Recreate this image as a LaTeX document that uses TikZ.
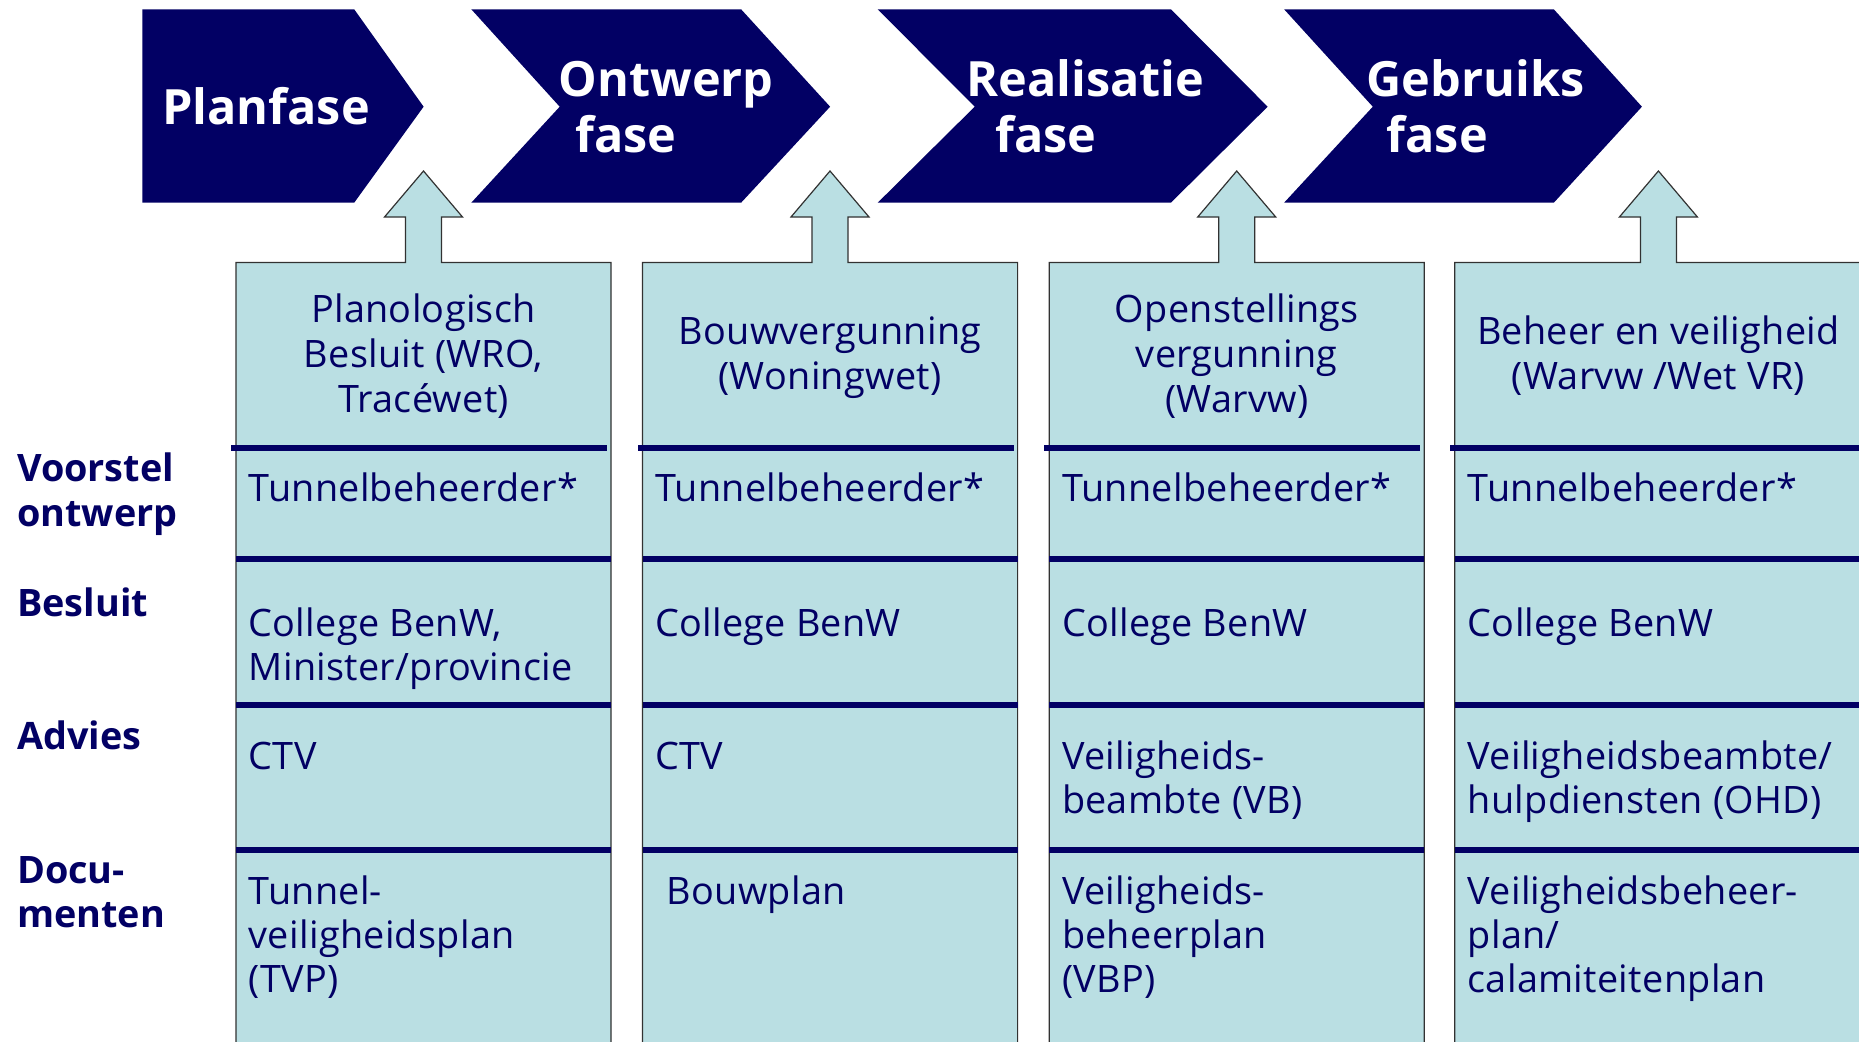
\documentclass[tikz,border=0pt]{standalone}
\usepackage{fontspec}
\setmainfont{Open Sans}[LetterSpace=0.8, BoldFeatures={LetterSpace=0}]
\definecolor{navy}{RGB}{2,0,100}
\definecolor{boxfill}{RGB}{186,223,227}
\definecolor{edge}{RGB}{50,50,50}
\newcommand{\leftlines}[2]{\vtop{\baselineskip=#1\lineskiplimit=-200pt\lineskip=0pt\halign{##\hfil\cr#2\crcr}}}
\newcommand{\centerlines}[2]{\vtop{\baselineskip=#1\lineskiplimit=-200pt\lineskip=0pt\halign{\hfil##\hfil\cr#2\crcr}}}
\tikzset{
  phase/.style={fill=navy, draw=none},
  phasetext/.style={text=white, font=\fontsize{48.6}{57}\selectfont\bfseries, inner sep=0pt, anchor=base west},
  colbox/.style={fill=boxfill, draw=edge, line width=1.2pt},
  sepbar/.style={fill=navy},
  celltext/.style={text=navy, font=\fontsize{37.8}{44}\selectfont, inner sep=0pt, anchor=base west},
  headtext/.style={text=navy, font=\fontsize{37.8}{45}\selectfont, inner sep=0pt, anchor=base},
  rowlabel/.style={text=navy, font=\fontsize{37.8}{45}\selectfont\bfseries, inner sep=0pt, anchor=base west},
}
\begin{document}
\begin{tikzpicture}[x=1pt,y=-1pt]
\path[use as bounding box] (0,0) rectangle (1859,1041);
\clip (0,0) rectangle (1859,1041);
\fill[white] (0,0) rectangle (1859,1041);

% phase chevrons
\path[phase] (142.4,9.3) -- (354.2,9.3) -- (423.6,106.7) -- (354.2,202.7) -- (142.4,202.7) -- cycle;
\path[phase] (471.3,9.3) -- (741.1,9.3) -- (830.1,106.7) -- (741.1,202.7) -- (471.3,202.7) -- (559.7,106.7) -- cycle;
\path[phase] (877.7,9.3) -- (1170.9,9.3) -- (1267.6,106.7) -- (1170.9,202.7) -- (877.7,202.7) -- (974.7,106.7) -- cycle;
\path[phase] (1284.1,9.3) -- (1553.8,9.3) -- (1641.9,106.7) -- (1553.8,202.7) -- (1284.1,202.7) -- (1372.8,106.7) -- cycle;

\node[phasetext] (p1) at (162,124) {Planfase};
\node[phasetext] (p2a) at (558.5,96) {Ontwerp};
\node[phasetext] (p2b) at (575,152.7) {fase};
\node[phasetext] (p3a) at (966,96) {Realisatie};
\node[phasetext] (p3b) at (995,152.7) {fase};
\node[phasetext] (p4a) at (1366.5,96) {Gebruiks};
\node[phasetext] (p4b) at (1386.5,152.7) {fase};

% columns: box with up arrow
% #1 left, #2 right, #3 arrow centre
\newcommand{\colshape}[3]{%
  \path[colbox] (#1,1100) -- (#1,262.5) -- ({#3-18},262.5) -- ({#3-18},217) -- ({#3-39},217)
    -- (#3,171) -- ({#3+39},217) -- ({#3+18},217) -- ({#3+18},262.5) -- (#2,262.5) -- (#2,1100);
  \fill[navy] ({#1-5},444.5) rectangle ({#2-4},450.5);
  \fill[navy] (#1,555.7) rectangle (#2,561.7);
  \fill[navy] (#1,702) rectangle (#2,708);
  \fill[navy] (#1,847) rectangle (#2,853);
}
\colshape{236}{611}{423.5}
\colshape{642.5}{1017.6}{830}
\colshape{1049.3}{1424.3}{1236.7}
\colshape{1454.7}{1900}{1658.4}

% column headers
\node[headtext] (h1) at (423.5,322.7) {\centerlines{45pt}{Planologisch\cr Besluit (WRO,\cr Tracéwet)}};
\node[headtext] (h2) at (830,344.5) {\centerlines{45pt}{Bouwvergunning\cr (Woningwet)}};
\node[headtext] (h3) at (1236.7,322.7) {\centerlines{45pt}{Openstellings\cr vergunning\cr (Warvw)}};
\node[headtext] (h4) at (1658.4,344.5) {\centerlines{45pt}{Beheer en veiligheid\cr (Warvw /Wet VR)}};

% row labels
\node[rowlabel] (l1) at (17,481.7) {\leftlines{45pt}{Voorstel\cr ontwerp}};
\node[rowlabel] (l2) at (17,616.7) {Besluit};
\node[rowlabel] (l3) at (17,749) {Advies};
\node[rowlabel] (l4) at (17,883.3) {\leftlines{44.5pt}{Docu-\cr menten}};

% cells column 1
\node[celltext] (a1) at (248.5,501.7) {Tunnelbeheerder*};
\node[celltext] (b1) at (248.5,636) {\leftlines{44pt}{College BenW,\cr Minister/provincie}};
\node[celltext] (c1) at (248.5,769.3) {CTV};
\node[celltext] (d1) at (248.5,904.3) {\leftlines{44pt}{Tunnel-\cr veiligheidsplan\cr (TVP)}};
% column 2
\node[celltext] (a2) at (655,501.7) {Tunnelbeheerder*};
\node[celltext] (b2) at (655,636) {College BenW};
\node[celltext] (c2) at (655,769.3) {CTV};
\node[celltext] (d2) at (666.5,904.3) {Bouwplan};
% column 3
\node[celltext] (a3) at (1061.8,501.7) {Tunnelbeheerder*};
\node[celltext] (b3) at (1061.8,636) {College BenW};
\node[celltext] (c3) at (1061.8,769.3) {\leftlines{44pt}{Veiligheids-\cr beambte (VB)}};
\node[celltext] (d3) at (1061.8,904.3) {\leftlines{44pt}{Veiligheids-\cr beheerplan\cr (VBP)}};
% column 4
\node[celltext] (a4) at (1467.5,501.7) {Tunnelbeheerder*};
\node[celltext] (b4) at (1467.5,636) {College BenW};
\node[celltext] (c4) at (1467.5,769.3) {\leftlines{44pt}{Veiligheidsbeambte/\cr hulpdiensten (OHD)}};
\node[celltext] (d4) at (1467.5,904.3) {\leftlines{44pt}{Veiligheidsbeheer-\cr plan/\cr calamiteitenplan}};
\end{tikzpicture}
\end{document}
